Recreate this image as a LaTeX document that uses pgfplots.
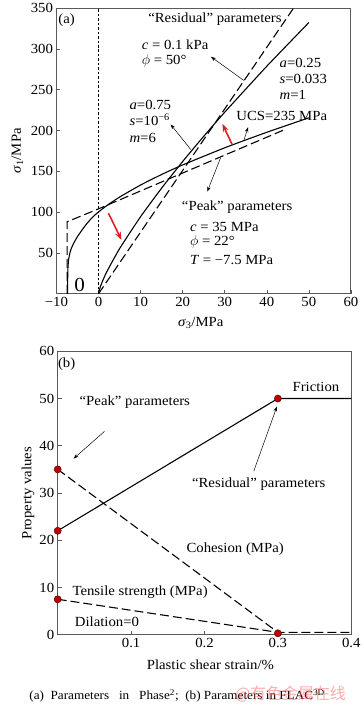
\documentclass[border=0pt]{standalone}
\usepackage{fontspec}
\setmainfont{Liberation Serif}[FakeStretch=1.06]
\newfontfamily\cjk{Noto Sans CJK SC}
\usepackage{pgfplots}
\pgfplotsset{compat=1.18}
\usetikzlibrary{arrows.meta}
\definecolor{frame}{HTML}{5A5A5A}
\definecolor{arrowred}{HTML}{E02020}
\definecolor{dotred}{HTML}{C00000}
\begin{document}
\begin{tikzpicture}[font=\fontsize{14bp}{16bp}\selectfont]
% ---------------- (a) ----------------
\begin{axis}[
  at={(56.7bp,-291.7bp)}, anchor=south west,
  scale only axis, width=296bp, height=287.2bp,
  xmin=-10, xmax=60, ymin=0, ymax=350,
  xtick={-10,0,...,60},
  xticklabels={−10,0,10,20,30,40,50,60},
  ytick={50,100,...,350},
  tick align=inside, tick pos=left,
  axis line style={frame, line width=1pt},
  tick style={frame, line width=0.6pt, major tick length=4bp},
  /pgf/number format/assume math mode=true,
  xlabel={\textit{σ}\textsubscript{3}/MPa},
  ylabel={\textit{σ}\textsubscript{1}/MPa},
  xlabel style={at={(axis description cs:0.49,0)}, anchor=north, yshift=-20bp},
  ylabel style={at={(axis description cs:0,0.5)}, anchor=south, yshift=30bp},
  clip=true,
]
\addplot[black, line width=0.6pt, dash pattern=on 2.5bp off 2bp] coordinates {(0,0) (0,350)};
\addplot[black, line width=1.1pt, smooth, tension=0.3] coordinates {
(-7.35,0) (-7.33,15) (-7.28,30) (-7.1,42) (-6.7,52) (-6,61) (-5,70) (-4,77.5) (-3,84.5) (-2,90.5) (-1,95.8) (0,100.2)
(2,108.1) (5,118.4) (10,133.2) (15,146.1) (20,157.8) (30,178.8) (40,197.8) (50,215.5)};
\addplot[black, line width=1.1pt, smooth, tension=0.3] coordinates {
(0,0) (0.1,2.8) (0.25,5.6) (0.5,9.4) (1,16.0) (2,27.3) (5,55.2) (10,94.4) (15,129.4) (20,162.0) (25,192.8) (30,222.4) (40,278.7) (50,332.2)};
\addplot[black, line width=1.1pt, dash pattern=on 9bp off 4bp] coordinates {
(-7.47,0) (-7.47,88.2) (0,104.0) (44.3,201.2)};
\addplot[black, line width=1.1pt, dash pattern=on 9bp off 4bp] coordinates {
(0,0) (46.37,350)};
\end{axis}
% ---------------- (b) ----------------
\begin{axis}[
  at={(58bp,-634.3bp)}, anchor=south west,
  scale only axis, width=295bp, height=284.8bp,
  xmin=0, xmax=0.4, ymin=0, ymax=60,
  xtick={0.1,0.2,0.3,0.4},
  xticklabels={0.1,0.2,0.3,0.4},
  ytick={0,10,...,60},
  tick align=inside, tick pos=left,
  axis line style={frame, line width=1pt},
  tick style={frame, line width=0.6pt, major tick length=4bp},
  /pgf/number format/assume math mode=true,
  xlabel={Plastic shear strain/\%},
  ylabel={Property values},
  xlabel style={at={(axis description cs:0.52,0)}, anchor=north, yshift=-22bp},
  ylabel style={at={(axis description cs:0,0.5)}, anchor=south, yshift=20bp},
  clip=false,
]
\addplot[black, line width=1.1pt] coordinates {(0,22) (0.3,50) (0.4,50)};
\addplot[black, line width=1.1pt, dash pattern=on 9bp off 4bp] coordinates {(0,35) (0.3,0.5) (0.4,0.5)};
\addplot[black, line width=1.1pt, dash pattern=on 9bp off 4bp] coordinates {(0,7.5) (0.3,0.5)};
\addplot[only marks, mark=*, mark size=3.6bp, mark options={fill=dotred, draw=black!70!dotred, line width=0.4pt}] coordinates {(0,22) (0,35) (0,7.5) (0.3,50) (0.3,0.3)};
\end{axis}
\begin{scope}[x=1bp,y=-1bp]
\path (0,0) rectangle (360,711);
% annotations (a)
\node at (67,17) {(a)};
\node at (216,15.7) {“Residual” parameters};
\node[anchor=west] at (139,41.7) {\textit{c} = 0.1 kPa};
\node[anchor=west] at (139,57.3) {$\phi$ = 50°};
\draw[-{Stealth[length=5bp,width=3.5bp]}, line width=0.5pt] (245,77.3) -- (212,53.5);
\node[anchor=west] at (277.5,59.3) {\textit{a}=0.25};
\node[anchor=west] at (277.5,76) {\textit{s}=0.033};
\node[anchor=west] at (277.5,91.7) {\textit{m}=1};
\node[anchor=west] at (234,113.3) {UCS=235 MPa};
\draw[-{Stealth[length=5bp,width=3.5bp]}, line width=0.5pt] (245,138) -- (249.3,124.3);
\draw[-{Stealth[length=8bp,width=6bp]}, line width=1.6pt, arrowred] (233.3,141.7) -- (223.5,121);
\node[anchor=west] at (126.7,101.7) {\textit{a}=0.75};
\node[anchor=west] at (126.7,117.3) {\textit{s}=10\textsuperscript{−6}};
\node[anchor=west] at (126.7,135) {\textit{m}=6};
\draw[-{Stealth[length=5bp,width=3.5bp]}, line width=0.5pt] (191.7,146.7) -- (171.5,121.5);
\draw[-{Stealth[length=5bp,width=3.5bp]}, line width=0.5pt] (221.7,155) -- (208.3,189);
\node at (238.3,204.3) {“Peak” parameters};
\node[anchor=west] at (187.5,224.3) {\textit{c} = 35 MPa};
\node[anchor=west] at (187.5,240) {$\phi$ = 22°};
\node[anchor=west] at (187.5,257.3) {\textit{T} = −7.5 MPa};
\draw[-{Stealth[length=8bp,width=6bp]}, line width=1.6pt, arrowred] (109,210.7) -- (122,237.5);
\node[font=\fontsize{20bp}{22bp}\selectfont] at (80,283) {0};
% annotations (b)
\node at (67,362.7) {(b)};
\node at (317.5,385.7) {Friction};
\node at (135.5,400.7) {“Peak” parameters};
\draw[-{Stealth[length=5bp,width=3.5bp]}, line width=0.5pt] (105,430) -- (74,457.3);
\node at (260,483.3) {“Residual” parameters};
\draw[-{Stealth[length=5bp,width=3.5bp]}, line width=0.5pt] (255,470) -- (278.3,405);
\node at (236.3,548.3) {Cohesion (MPa)};
\node at (140.8,591.7) {Tensile strength (MPa)};
\node at (107.5,621) {Dilation=0};
% caption
\node[font=\fontsize{12.5bp}{14bp}\selectfont] at (178,696) {(a)\ \ Parameters\ \ \ in\ \ \ Phase\textsuperscript{2};\ \ (b) Parameters in FLAC\textsuperscript{3D}};
\node[font=\cjk\fontsize{16bp}{18bp}\selectfont, text=red!60, opacity=0.55] at (292,694) {@有色金属在线};
\end{scope}
\end{tikzpicture}
\end{document}
